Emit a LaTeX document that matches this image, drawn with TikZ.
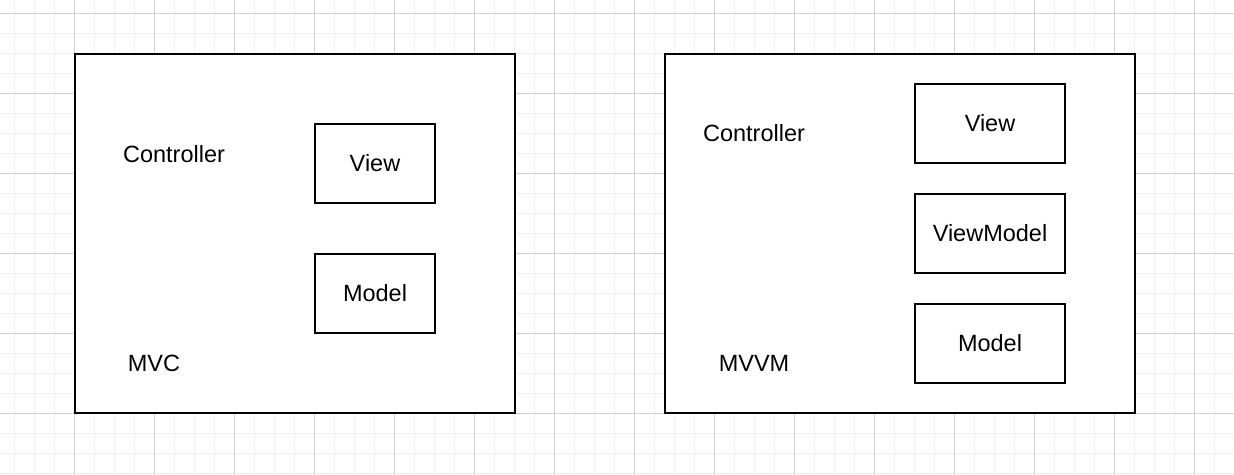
\documentclass[tikz,border=0pt]{standalone}
\usepackage{fontspec}
\setmainfont{Liberation Sans}
\definecolor{gridminor}{HTML}{F0F0F0}
\definecolor{gridmajor}{HTML}{D2D2D2}
\begin{document}
\begin{tikzpicture}[x=1pt,y=-1pt,
  outerbox/.style={draw=black,line width=2pt,fill=white,inner sep=0pt},
  innerbox/.style={draw=black,line width=2pt,fill=white,inner sep=0pt,minimum width=120pt,minimum height=79pt,font=\fontsize{23.5}{28}\selectfont},
  wideinner/.style={innerbox,minimum width=150pt},
  lbl/.style={anchor=base,inner sep=0pt,font=\fontsize{23.5}{28}\selectfont}]
\useasboundingbox (0,0) rectangle (1234,474);
\fill[white] (0,0) rectangle (1234,474);
% minor grid
\foreach \gx in {14,34,...,1234} \draw[gridminor,line width=1pt] (\gx,0) -- (\gx,474);
\foreach \gy in {13,33,...,474} \draw[gridminor,line width=1pt] (0,\gy) -- (1234,\gy);
% major grid
\foreach \gx in {74,154,...,1234} \draw[gridmajor,line width=1pt] (\gx,0) -- (\gx,474);
\foreach \gy in {13,93,...,474} \draw[gridmajor,line width=1pt] (0,\gy) -- (1234,\gy);
% MVC
\node[outerbox,minimum width=440pt,minimum height=359pt] (mvc) at (294.5,233.5) {};
\node[innerbox] (view1) at (375,163.5) {View};
\node[innerbox] (model1) at (375,293.5) {Model};
\node[lbl] (ctrl1) at (174,162) {Controller};
\node[lbl] (mvclbl) at (154,371.7) {MVC};
% MVVM
\node[outerbox,minimum width=470pt,minimum height=359pt] (mvvm) at (900,233.5) {};
\node[wideinner] (view2) at (990,123.5) {View};
\node[wideinner] (vm2) at (990,233.5) {ViewModel};
\node[wideinner] (model2) at (990,343.5) {Model};
\node[lbl] (ctrl2) at (754,141.7) {Controller};
\node[lbl] (mvvmlbl) at (754,371.7) {MVVM};
\end{tikzpicture}
\end{document}
